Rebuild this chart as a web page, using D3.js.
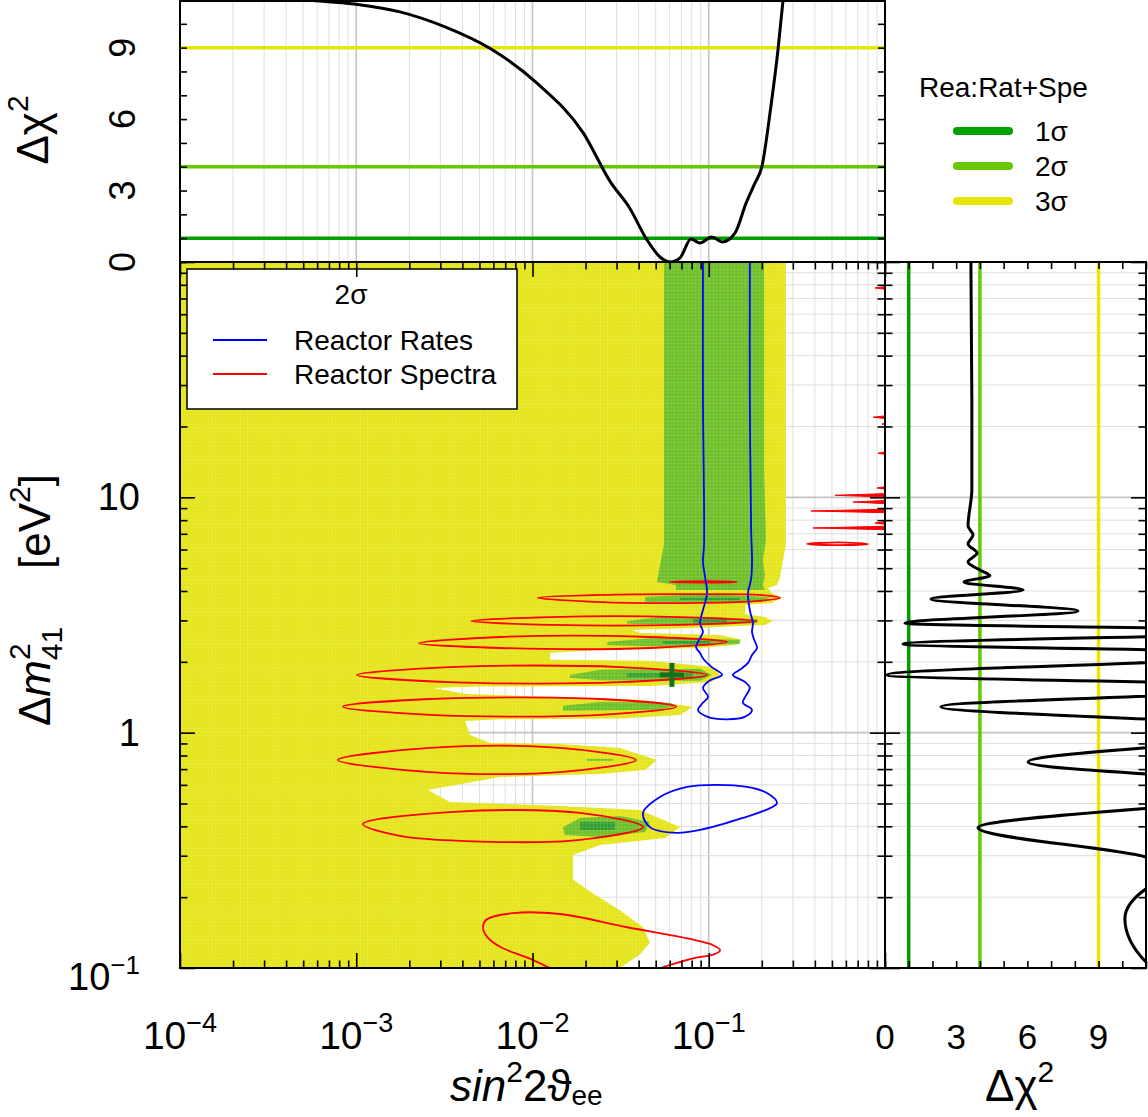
<!DOCTYPE html>
<html><head><meta charset="utf-8">
<script src="https://cdn.jsdelivr.net/npm/d3@7"></script>
<style>
body{margin:0;background:#fff;}
svg{display:block;font-family:"Liberation Sans",Arial,Helvetica,sans-serif;}
</style></head><body>
<svg id="c" width="1148" height="1117"></svg>
<script>
// ---------------- DATA ----------------
// top panel: marginal Δχ² vs sin²2θ
const topSin2 = [1e-4, 2.49e-4, 5.32e-4, 9.71e-4, 1.77e-3, 3.19e-3, 5.82e-3, 1.06e-2, 1.94e-2, 2.79e-2, 3.53e-2, 4.47e-2, 5.29e-2, 6.03e-2, 6.87e-2, 7.93e-2, 8.91e-2, 0.104, 0.120, 0.141, 0.163, 0.183, 0.200, 0.225, 0.247, 0.264, 0.285];
const topChi2 = [11.6, 11.25, 11.0, 10.83, 10.50, 9.87, 8.94, 7.51, 5.42, 3.32, 2.31, 0.92, 0.21, 0.0, 0.17, 0.97, 0.80, 1.05, 0.84, 1.22, 2.48, 3.32, 3.99, 6.51, 8.90, 11.0, 13.0];
// right panel: marginal Δχ² vs Δm²41
const rightDm2 = [100, 26.4, 10.8, 7.55, 6.92, 6.34, 5.80, 5.31, 4.91, 4.65, 4.36, 4.04, 3.70, 3.29, 2.92, 2.70, 2.38, 2.16, 1.76, 1.56, 1.29, 1.03, 0.750, 0.576, 0.394, 0.296, 0.254, 0.217, 0.162, 0.106, 0.1];
const rightChi2 = [3.62, 3.66, 3.66, 3.50, 3.71, 3.50, 3.88, 3.50, 4.00, 4.42, 3.33, 5.82, 1.94, 8.13, 0.84, 18, 0.76, 18, 0.08, 18, 2.36, 18, 6.03, 18, 3.92, 11.0, 12.5, 11.0, 10.11, 11.0, 11.3];
// confidence levels (Δχ²)
const clLevels = [1, 4, 9];
const clNames = ["1σ", "2σ", "3σ"];

// 2D allowed regions [sin²2θ, Δm²]
const region3s = [[1e-4,100],[0.274,100],[0.274,6.27],[0.264,5.42],[0.254,4.59],[0.244,4.24],[0.217,4.12],[0.228,3.92],[0.260,3.74],[0.228,3.56],[0.161,3.49],[0.161,3.19],[0.208,3.10],[0.232,2.98],[0.208,2.87],[0.0892,2.79],[0.0367,2.73],[0.0407,2.65],[0.116,2.60],[0.154,2.48],[0.141,2.36],[0.0892,2.29],[0.0242,2.25],[0.0126,2.18],[0.0126,2.04],[0.0464,2.02],[0.106,1.90],[0.116,1.76],[0.104,1.64],[0.0464,1.58],[5.04e-3,1.57],[2.73e-3,1.55],[4.25e-3,1.46],[0.0126,1.42],[0.0407,1.38],[0.0815,1.29],[0.0687,1.19],[0.0313,1.15],[6.54e-3,1.14],[4.14e-3,1.12],[4.42e-3,0.977],[5.74e-3,0.904],[0.0143,0.895],[0.0313,0.861],[0.0509,0.766],[0.0435,0.694],[0.0242,0.667],[6.54e-3,0.648],[2.55e-3,0.571],[3.40e-3,0.508],[0.0143,0.488],[0.0407,0.469],[0.0687,0.397],[0.0565,0.357],[0.0242,0.333],[0.0170,0.302],[0.0170,0.237],[0.0220,0.208],[0.0313,0.176],[0.0424,0.149],[0.0464,0.128],[0.0407,0.114],[0.0313,0.100],[1e-4,0.1]];
const region2s = [
  [[0.0557,100],[0.206,100],[0.206,13.1],[0.211,6.59],[0.203,5.42],[0.208,4.68],[0.203,4.24],[0.208,4.04],[0.0652,4.04],[0.0652,4.24],[0.0509,4.37],[0.0529,5.16],[0.0557,6.27]],
  [[0.0435,3.77],[0.0892,3.88],[0.223,3.77],[0.195,3.59],[0.0435,3.59]],
  [[0.0344,2.98],[0.0529,3.10],[0.188,3.04],[0.188,2.92],[0.0892,2.87],[0.0344,2.90]],
  [[0.0265,2.43],[0.0464,2.52],[0.150,2.48],[0.150,2.38],[0.0464,2.33],[0.0265,2.36]],
  [[0.0163,1.76],[0.0242,1.85],[0.0892,1.87],[0.104,1.76],[0.0892,1.66],[0.0242,1.67],[0.0163,1.71]],
  [[0.0149,1.30],[0.0242,1.35],[0.0603,1.34],[0.066,1.30],[0.0529,1.25],[0.0149,1.24]],
  [[0.0204,0.773],[0.0286,0.773],[0.0286,0.759],[0.0204,0.759]],
  [[0.0149,0.397],[0.0186,0.434],[0.0313,0.443],[0.0464,0.417],[0.0435,0.378],[0.0242,0.360],[0.0152,0.367]]
];
const region1s = [
  [[0.0687,3.74],[0.150,3.74],[0.150,3.66],[0.0687,3.66]],
  [[0.0815,3.04],[0.127,3.04],[0.127,2.92],[0.0815,2.92]],
  [[0.055,2.45],[0.1017,2.45],[0.1017,2.38],[0.055,2.38]],
  [[0.0344,1.79],[0.0815,1.79],[0.0815,1.72],[0.0344,1.72]],
  [[0.0186,0.417],[0.0294,0.417],[0.0294,0.386],[0.0186,0.386]]
];
const bestFit = [0.0618, 1.76];

// Reactor Spectra 2σ contours (closed)
const spectraContours = [
  [[0.0603,4.37],[0.100,4.40],[0.145,4.37],[0.100,4.34]],
  [[0.0107,3.74],[0.0242,3.85],[0.0892,3.88],[0.195,3.85],[0.254,3.74],[0.195,3.63],[0.0892,3.56],[0.0242,3.59]],
  [[4.48e-3,2.98],[0.0126,3.10],[0.0687,3.10],[0.188,2.98],[0.0687,2.87],[0.0126,2.87]],
  [[2.27e-3,2.40],[6.54e-3,2.55],[0.0464,2.55],[0.127,2.43],[0.0464,2.29],[6.54e-3,2.29]],
  [[1.01e-3,1.76],[3.40e-3,1.90],[0.0313,1.90],[0.0978,1.76],[0.0313,1.64],[3.40e-3,1.64]],
  [[8.41e-4,1.29],[2.62e-3,1.39],[0.0242,1.39],[0.0652,1.29],[0.0242,1.19],[2.62e-3,1.19]],
  [[7.88e-4,0.766],[2.62e-3,0.861],[0.0143,0.861],[0.0386,0.766],[0.0143,0.680],[2.62e-3,0.680]],
  [[1.09e-3,0.409],[3.40e-3,0.460],[0.0186,0.456],[0.0424,0.397],[0.0186,0.350],[6.54e-3,0.343],[1.77e-3,0.364]],
  [[0.361,6.34],[0.55,6.43],[0.801,6.34],[0.55,6.26]]
];
// Reactor Spectra open contour at the bottom
const spectraOpen = [[0.0149,0.0934],[0.0101,0.108],[6.54e-3,0.123],[5.52e-3,0.136],[5.24e-3,0.148],[5.45e-3,0.160],[7.75e-3,0.171],[0.0143,0.1696],[0.0344,0.149],[0.0815,0.132],[0.106,0.125],[0.116,0.119],[0.106,0.114],[0.0815,0.110],[0.0529,0.100],[0.0407,0.0934]];
// thin Reactor Spectra spikes entering from sin²2θ = 1: [tip sin²2θ, Δm²]
const spectraSpikes = [[0.878,77.6],[0.855,21.9],[0.962,20.5],[0.912,15.4],[0.901,10.96],[0.520,10.2],[0.658,9.55],[0.380,8.75],[0.878,7.78],[0.390,7.41]];
// Reactor Rates 2σ contours
const ratesOpen = [[0.0927,100],[0.0927,26.4],[0.094,6.27],[0.0927,5.31],[0.0953,4.59],[0.0978,3.92],[0.0927,3.32],[0.0892,2.92],[0.0927,2.68],[0.0881,2.48],[0.0847,2.31],[0.0892,2.18],[0.094,2.04],[0.104,1.90],[0.119,1.76],[0.1017,1.67],[0.0927,1.55],[0.0991,1.42],[0.0927,1.34],[0.0869,1.25],[0.0978,1.17],[0.127,1.14],[0.161,1.17],[0.176,1.25],[0.156,1.34],[0.161,1.42],[0.171,1.55],[0.161,1.64],[0.137,1.76],[0.150,1.85],[0.167,1.98],[0.176,2.14],[0.188,2.29],[0.181,2.48],[0.176,2.68],[0.178,2.92],[0.171,3.32],[0.167,3.92],[0.174,4.50],[0.176,5.31],[0.174,7.34],[0.171,25.9],[0.171,100]];
const ratesClosed = [[0.0424,0.456],[0.0529,0.533],[0.0753,0.588],[0.111,0.600],[0.165,0.588],[0.214,0.554],[0.244,0.503],[0.223,0.478],[0.156,0.434],[0.0892,0.386],[0.066,0.375],[0.0464,0.397]];

// tick labels
const sin2Ticks = [1e-4, 1e-3, 1e-2, 1e-1];
const sin2TickExp = ["−4", "−3", "−2", "−1"];
const dm2Ticks = [0.1, 1, 10];
const dm2TickBase = ["10", "1", "10"];
const dm2TickExp = ["−1", "", ""];
const chiTicks = [0, 3, 6, 9];
const chiMinorTicks = [0,1,2,3,4,5,6,7,8,9,10,11];
const legendItems = ["Reactor Rates", "Reactor Spectra"];

// ---------------- STYLE ----------------
const clColor = ["#00a000", "#66c800", "#e6e600"];
const fill3 = "#e4e418", fill2 = "#6cbf26", fill1 = "#2f9e2f";
const L=180, R=885, T=262, B=968, RR=1146;

const svg = d3.select("#c");
const x = d3.scaleLog().domain([1e-4,1]).range([L,R]);
const y = d3.scaleLog().domain([0.1,100]).range([B,T]);
const yc = d3.scaleLinear().domain([0,11]).range([T,0]);
const xc = d3.scaleLinear().domain([0,11]).range([R,RR]);

const defs = svg.append("defs");
defs.append("clipPath").attr("id","cm").append("rect").attr("x",L).attr("y",T).attr("width",R-L).attr("height",B-T);
defs.append("clipPath").attr("id","ct").append("rect").attr("x",L).attr("y",0).attr("width",R-L).attr("height",T);
defs.append("clipPath").attr("id","cr").append("rect").attr("x",R).attr("y",T).attr("width",RR-R).attr("height",B-T);
// cell texture of the binned regions
[["p3",fill3],["p2",fill2],["p1",fill1]].forEach(([id,c])=>{
  const p = defs.append("pattern").attr("id",id).attr("patternUnits","userSpaceOnUse").attr("width",3.53).attr("height",3.53).attr("x",L).attr("y",T);
  p.append("rect").attr("width",3.53).attr("height",3.53).attr("fill",c);
  p.append("path").attr("d","M0,0.3H3.53M0.3,0V3.53").attr("stroke","#fff").attr("stroke-opacity",0.22).attr("stroke-width",0.6);
});

const isDec = v => Math.abs(Math.log10(v)-Math.round(Math.log10(v)))<1e-6;
const allX = x.ticks().filter(v=>v>1e-4*1.0001 && v<0.9999);
const allY = y.ticks().filter(v=>v>0.10001 && v<99.99);
const gridCol = v => isDec(v) ? "#c4c4c4" : "#dedede";
const gridW = v => isDec(v) ? 1.6 : 1;

// ---- gridlines
const gMain = svg.append("g");
gMain.selectAll("line.gx").data(allX).join("line").attr("class","gx").attr("x1",d=>x(d)).attr("x2",d=>x(d)).attr("y1",T).attr("y2",B).attr("stroke",gridCol).attr("stroke-width",gridW);
gMain.selectAll("line.gy").data(allY).join("line").attr("class","gy").attr("y1",d=>y(d)).attr("y2",d=>y(d)).attr("x1",L).attr("x2",R).attr("stroke",gridCol).attr("stroke-width",gridW);
const gTopGrid = svg.append("g");
gTopGrid.selectAll("line").data(allX).join("line").attr("x1",d=>x(d)).attr("x2",d=>x(d)).attr("y1",0).attr("y2",T).attr("stroke",gridCol).attr("stroke-width",gridW);
const gRGrid = svg.append("g");
gRGrid.selectAll("line").data(allY).join("line").attr("y1",d=>y(d)).attr("y2",d=>y(d)).attr("x1",R).attr("x2",RR).attr("stroke",gridCol).attr("stroke-width",gridW);

// ---- main panel content
const mainG = svg.append("g").attr("clip-path","url(#cm)");
const poly = d3.line().x(d=>x(d[0])).y(d=>y(d[1])).curve(d3.curveLinearClosed);
mainG.append("path").attr("d",poly(region3s)).attr("fill","url(#p3)");
region2s.forEach(p=>mainG.append("path").attr("d",poly(p)).attr("fill","url(#p2)"));
region1s.forEach(p=>mainG.append("path").attr("d",poly(p)).attr("fill","url(#p1)"));

const closedC = d3.line().x(d=>x(d[0])).y(d=>y(d[1])).curve(d3.curveCatmullRomClosed.alpha(0.5));
const openC = d3.line().x(d=>x(d[0])).y(d=>y(d[1])).curve(d3.curveCatmullRom.alpha(0.5));
spectraContours.forEach(p=>mainG.append("path").attr("d",closedC(p)).attr("fill","none").attr("stroke","#ff0000").attr("stroke-width",1.8));
mainG.append("path").attr("d",openC(spectraOpen)).attr("fill","none").attr("stroke","#ff0000").attr("stroke-width",1.8);
mainG.selectAll("path.spike").data(spectraSpikes).join("path").attr("class","spike")
  .attr("d",d=>`M${x(d[0])},${y(d[1])}L${R+4},${y(d[1])-1.8}L${R+4},${y(d[1])+1.8}Z`)
  .attr("fill","#ff0000").attr("stroke","#ff0000").attr("stroke-width",1);
mainG.append("path").attr("d",openC(ratesOpen)).attr("fill","none").attr("stroke","#0000ff").attr("stroke-width",1.8);
mainG.append("path").attr("d",closedC(ratesClosed)).attr("fill","none").attr("stroke","#0000ff").attr("stroke-width",1.8);
// best fit cross
const bx = x(bestFit[0]), by = y(bestFit[1]);
mainG.append("line").attr("x1",bx-12).attr("x2",bx+12).attr("y1",by).attr("y2",by).attr("stroke","#17701a").attr("stroke-width",5);
mainG.append("line").attr("x1",bx).attr("x2",bx).attr("y1",by-12).attr("y2",by+12).attr("stroke","#17701a").attr("stroke-width",5);

// main legend box
svg.append("rect").attr("x",187).attr("y",269).attr("width",330).attr("height",140).attr("fill","#fff").attr("stroke","#000").attr("stroke-width",1.5);
svg.append("text").attr("x",351).attr("y",304).attr("text-anchor","middle").attr("font-size",28).text("2σ");
const legC = ["#0000ff","#ff0000"];
legendItems.forEach((s,i)=>{
  const yy = 340 + i*34;
  svg.append("line").attr("x1",213).attr("x2",267).attr("y1",yy).attr("y2",yy).attr("stroke",legC[i]).attr("stroke-width",1.8);
  svg.append("text").attr("x",294).attr("y",yy+10).attr("font-size",28).text(s);
});

// ---- top panel
const topG = svg.append("g").attr("clip-path","url(#ct)");
clLevels.forEach((v,i)=>topG.append("line").attr("x1",L).attr("x2",R).attr("y1",yc(v)).attr("y2",yc(v)).attr("stroke",clColor[i]).attr("stroke-width",3.5));
const topLine = d3.line().x((d,i)=>x(topSin2[i])).y((d,i)=>yc(topChi2[i])).curve(d3.curveMonotoneX);
topG.append("path").attr("d",topLine(topSin2)).attr("fill","none").attr("stroke","#000").attr("stroke-width",3);

// ---- right panel
const rightG = svg.append("g").attr("clip-path","url(#cr)");
clLevels.forEach((v,i)=>rightG.append("line").attr("y1",T).attr("y2",B).attr("x1",xc(v)).attr("x2",xc(v)).attr("stroke",clColor[i]).attr("stroke-width",3.5));
const rLine = d3.line().x((d,i)=>xc(rightChi2[i])).y((d,i)=>y(rightDm2[i])).curve(d3.curveMonotoneY);
rightG.append("path").attr("d",rLine(rightDm2)).attr("fill","none").attr("stroke","#000").attr("stroke-width",3);

// ---- axes ticks
const majX = x.ticks().filter(isDec), minX = x.ticks().filter(v=>!isDec(v));
const majY = y.ticks().filter(isDec), minY = y.ticks().filter(v=>!isDec(v));
function ax(fn, sc, vals, size, tx, ty){
  svg.append("g").attr("transform",`translate(${tx},${ty})`)
    .call(fn(sc).tickValues(vals).tickSize(size).tickFormat(""))
    .call(g=>{g.select(".domain").remove(); g.selectAll("line").attr("stroke","#000").attr("stroke-width",1.6);});
}
ax(d3.axisBottom,x,minX,-7.5,0,B); ax(d3.axisBottom,x,majX,-15,0,B);
ax(d3.axisTop,x,minX,-7.5,0,T); ax(d3.axisTop,x,majX,-15,0,T);
ax(d3.axisLeft,y,minY,-7.5,L,0); ax(d3.axisLeft,y,majY,-15,L,0);
ax(d3.axisRight,y,minY,-7.5,R,0); ax(d3.axisRight,y,majY,-15,R,0);
ax(d3.axisLeft,y,minY,-7.5,R,0); ax(d3.axisLeft,y,majY,-15,R,0);
ax(d3.axisRight,y,minY,-7.5,RR,0); ax(d3.axisRight,y,majY,-15,RR,0);
ax(d3.axisLeft,yc,chiMinorTicks,-7,L,0); ax(d3.axisRight,yc,chiMinorTicks,-7,R,0);
ax(d3.axisBottom,xc,chiMinorTicks,-7,0,B); ax(d3.axisTop,xc,chiMinorTicks,-7,0,T);

// frames
[[L,1,R-L,T-1],[L,T,R-L,B-T],[R,T,RR-R,B-T]].forEach(r=>svg.append("rect").attr("x",r[0]).attr("y",r[1]).attr("width",r[2]).attr("height",r[3]).attr("fill","none").attr("stroke","#000").attr("stroke-width",2));

// ---- tick labels
sin2Ticks.forEach((v,i)=>{
  const t = svg.append("text").attr("x",x(v)).attr("y",1049).attr("text-anchor","middle").attr("font-size",39);
  t.append("tspan").text("10");
  t.append("tspan").attr("font-size",27).attr("dy",-17).text(sin2TickExp[i]);
});
dm2Ticks.forEach((v,i)=>{
  const t = svg.append("text").attr("x",140).attr("y", i===0 ? 990 : y(v)+13).attr("text-anchor","end").attr("font-size",38);
  t.append("tspan").text(dm2TickBase[i]);
  if (dm2TickExp[i]) t.append("tspan").attr("font-size",26).attr("dy",-16).text(dm2TickExp[i]);
});
chiTicks.forEach(v=>{
  svg.append("text").attr("x",xc(v)).attr("y",1049).attr("text-anchor","middle").attr("font-size",35).text(v);
  svg.append("text").attr("transform",`translate(135,${yc(v)}) rotate(-90)`).attr("text-anchor","middle").attr("font-size",36).text(v);
});

// ---- axis titles
{
  const t = svg.append("text").attr("x",450).attr("y",1101).attr("font-size",44);
  t.append("tspan").attr("font-style","italic").text("sin");
  t.append("tspan").attr("font-size",30).attr("dy",-19).text("2");
  t.append("tspan").attr("dy",19).text("2ϑ");
  t.append("tspan").attr("font-size",28).attr("dy",4).text("ee");
}
{
  const t = svg.append("text").attr("x",985).attr("y",1101).attr("font-size",44);
  t.append("tspan").text("Δχ");
  t.append("tspan").attr("font-size",30).attr("dy",-19).text("2");
}
{
  const t = svg.append("text").attr("transform","translate(48,130) rotate(-90)").attr("text-anchor","middle").attr("font-size",44);
  t.append("tspan").text("Δχ");
  t.append("tspan").attr("font-size",30).attr("dy",-20).text("2");
}
{
  const t = svg.append("text").attr("transform","translate(50,600) rotate(-90)").attr("text-anchor","middle").attr("font-size",44);
  t.append("tspan").text("Δ");
  t.append("tspan").attr("font-style","italic").text("m");
  t.append("tspan").attr("font-size",30).attr("dy",-20).text("2");
  t.append("tspan").attr("font-size",30).attr("dx",-17).attr("dy",32).text("41");
  t.append("tspan").attr("dx",58).attr("dy",-12).text("[eV");
  t.append("tspan").attr("font-size",30).attr("dy",-20).text("2");
  t.append("tspan").attr("dy",20).text("]");
}

// ---- CL legend (top right)
svg.append("text").attr("x",919).attr("y",97).attr("font-size",28).text("Rea:Rat+Spe");
clNames.forEach((s,i)=>{
  const yy = 131 + i*35;
  svg.append("line").attr("x1",957).attr("x2",1009).attr("y1",yy).attr("y2",yy).attr("stroke",clColor[i]).attr("stroke-width",8).attr("stroke-linecap","round");
  svg.append("text").attr("x",1035).attr("y",yy+10).attr("font-size",28).text(s);
});
</script></body></html>
